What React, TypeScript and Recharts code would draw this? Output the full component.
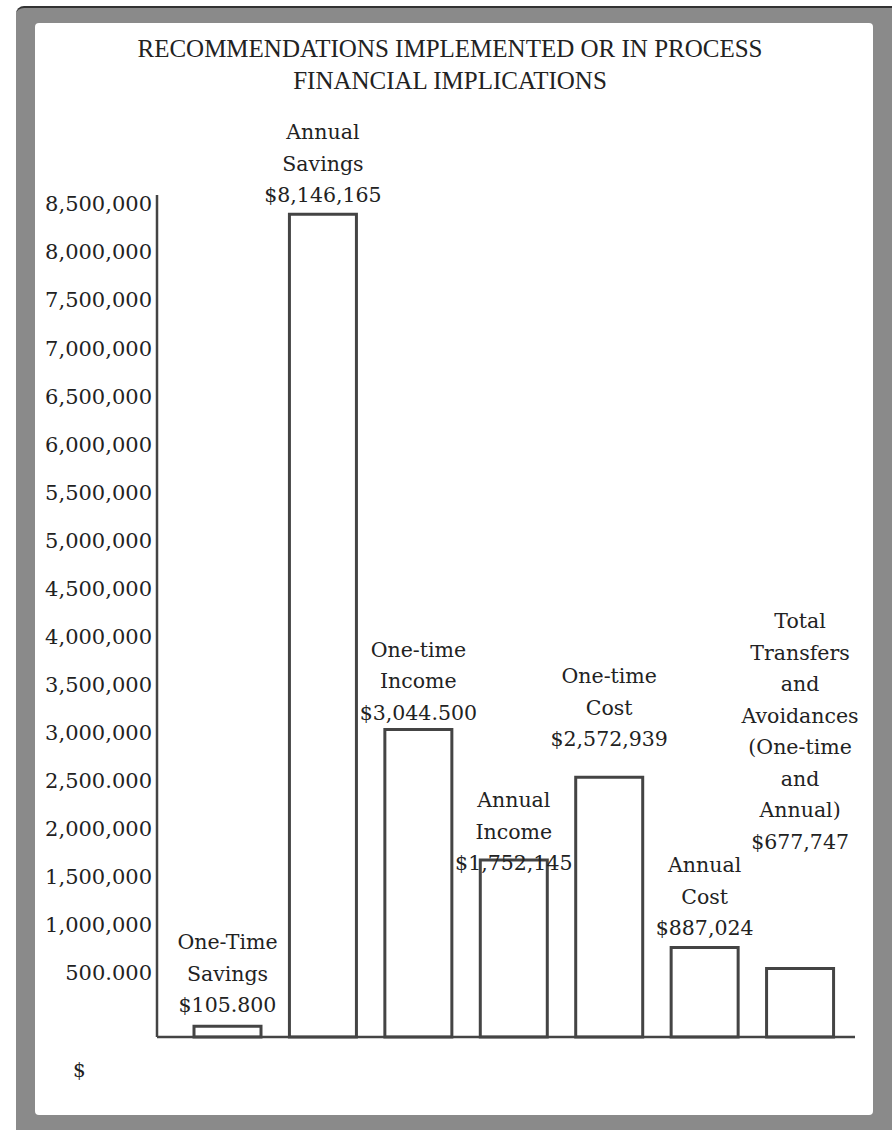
import { BarChart, Bar, XAxis, YAxis, LabelList } from 'recharts';

const categories = [
  'One-Time Savings',
  'Annual Savings',
  'One-time Income',
  'Annual Income',
  'One-time Cost',
  'Annual Cost',
  'Total Transfers and Avoidances (One-time and Annual)',
];

const labelLines = [
  ['One-Time', 'Savings'],
  ['Annual', 'Savings'],
  ['One-time', 'Income'],
  ['Annual', 'Income'],
  ['One-time', 'Cost'],
  ['Annual', 'Cost'],
  ['Total', 'Transfers', 'and', 'Avoidances', '(One-time', 'and', 'Annual)'],
];

const amounts = [105800, 8146165, 3044500, 1752145, 2572939, 887024, 677747];

const amountLabels = [
  '$105.800',
  '$8,146,165',
  '$3,044.500',
  '$1,752,145',
  '$2,572,939',
  '$887,024',
  '$677,747',
];

const tickValues = [
  500000, 1000000, 1500000, 2000000, 2500000, 3000000, 3500000, 4000000, 4500000,
  5000000, 5500000, 6000000, 6500000, 7000000, 7500000, 8000000, 8500000,
];

const tickLabels = [
  '500.000', '1,000,000', '1,500,000', '2,000,000', '2,500.000', '3,000,000',
  '3,500,000', '4,000,000', '4,500,000', '5,000,000', '5,500,000', '6,000,000',
  '6,500,000', '7,000,000', '7,500,000', '8,000,000', '8,500,000',
];

// layout only: how far a label block sits above its bar beyond the usual gap
const labelLift = [2, 0, -2, -22, 19, 0, 108];

const data = categories.map((name, i) => ({ name, value: amounts[i], idx: i }));

const ink = '#222';
const serif = '"DejaVu Serif", serif';

const BarLabel = (props: any) => {
  const vb = props.viewBox ?? props;
  const i = typeof props.index === 'number' ? props.index : props.value;
  const lines = [...labelLines[i], amountLabels[i]];
  const cx = vb.x + vb.width / 2;
  const lineH = 31.5;
  const base = vb.y - 12 - labelLift[i];
  return (
    <text textAnchor="middle" fontFamily={serif} fontSize={20.5} fill={ink}>
      {lines.map((t, k) => (
        <tspan key={k} x={cx} y={base - (lines.length - 1 - k) * lineH}>
          {t}
        </tspan>
      ))}
    </text>
  );
};

export default function App() {
  return (
    <div style={{ position: 'relative', width: 892, height: 1130, background: '#fff' }}>
      <style>{'body{margin:0}'}</style>
      <div
        style={{
          position: 'absolute', left: 16, top: 6, right: 0, bottom: 0,
          background: '#8a8a8a', borderTopLeftRadius: 8,
          borderTop: '2px solid #333',
        }}
      />
      <div
        style={{
          position: 'absolute', left: 35, top: 23, width: 838, height: 1092,
          background: '#fff', borderRadius: 4,
        }}
      />
      <div
        style={{
          position: 'absolute', left: 35, top: 33, width: 830, textAlign: 'center',
          fontFamily: '"Liberation Serif", serif', fontSize: 25, lineHeight: '32px', color: ink,
        }}
      >
        <div>RECOMMENDATIONS IMPLEMENTED OR IN PROCESS</div>
        <div>FINANCIAL IMPLICATIONS</div>
      </div>
      <div style={{ position: 'absolute', left: 0, top: 0 }}>
        <BarChart
          width={892}
          height={1130}
          data={data}
          margin={{ top: 195, right: 37, bottom: 92, left: 36 }}
        >
          <XAxis
            dataKey="name"
            tick={false}
            tickLine={false}
            height={1}
            padding={{ left: 23, right: 7 }}
            axisLine={{ stroke: '#444', strokeWidth: 2.5 }}
          />
          <YAxis
            yAxisId="ticks"
            type="number"
            domain={[-166400, 8592000]}
            allowDataOverflow
            ticks={tickValues}
            interval={0}
            width={121}
            tickSize={3}
            tickMargin={2}
            tickLine={false}
            axisLine={{ stroke: '#444', strokeWidth: 2.5 }}
            tickFormatter={(v: number) => tickLabels[tickValues.indexOf(v)] ?? ''}
            tick={{ fontFamily: serif, fontSize: 21, fill: ink }}
          />
          <YAxis yAxisId="bars" type="number" domain={[0, 8337000]} width={0} hide />
          <Bar
            yAxisId="bars"
            dataKey="value"
            barSize={67}
            fill="#fff"
            stroke="#444"
            strokeWidth={3}
            isAnimationActive={false}
          >
            <LabelList dataKey="idx" content={BarLabel} />
          </Bar>
        </BarChart>
      </div>
      <div
        style={{
          position: 'absolute', left: 73, top: 1058, fontFamily: serif,
          fontSize: 20, color: ink,
        }}
      >
        $
      </div>
    </div>
  );
}
